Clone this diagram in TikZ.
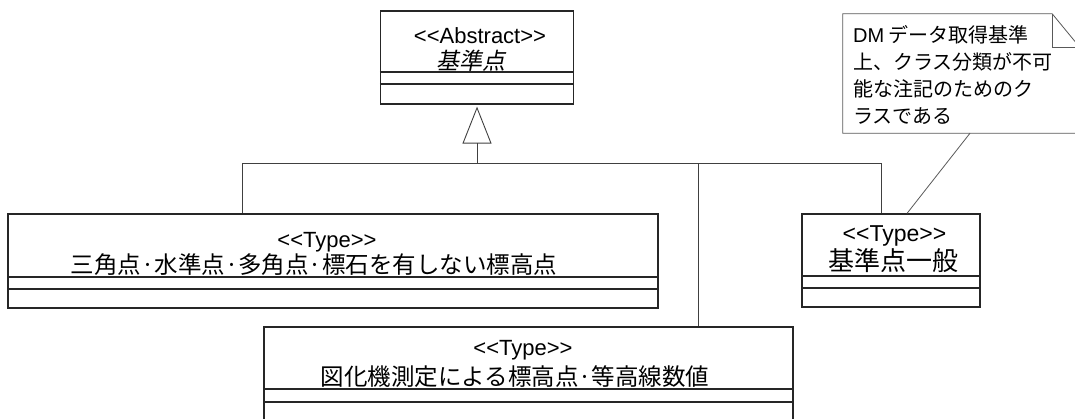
\documentclass[tikz,border=0pt]{standalone}
\usepackage{fontspec}
\setmainfont{Liberation Sans}[Ligatures=TeXOff]
\newfontfamily\jpfont{Noto Sans CJK JP}
\newfontfamily\jpslant{Noto Sans CJK JP}[FakeSlant=0.2]
\usetikzlibrary{arrows.meta}

\tikzset{
    classbox/.style={draw=black!85, line width=1.2pt, inner sep=0pt},
    compline/.style={draw=black!85, line width=1.1pt},
    stereo/.style={anchor=base, inner sep=0pt, font=\fontsize{22}{26}\selectfont},
    jpname/.style={anchor=base, inner sep=0pt, font=\jpfont\fontsize{23.5}{28}\selectfont},
    conn/.style={draw=black!75, line width=0.9pt},
    noteline/.style={draw=black!65, line width=0.8pt},
    notetext/.style={anchor=base west, inner sep=0pt, font=\jpfont\fontsize{20}{27}\selectfont}
}

\begin{document}
\begin{tikzpicture}[x=1pt, y=-1pt]
    \useasboundingbox (0,0) rectangle (1075,418);

    % Lớp trừu tượng
    \node[classbox, minimum width=193pt, minimum height=93pt] (kijun) at (477,57.5) {};
    \node[stereo] (kijunst) at (480,43) {<\kern0pt<Abstract>\kern0pt>};
    \node[jpname, font=\jpslant\fontsize{23}{28}\selectfont] (kijunname) at (471,69) {基準点};

    % Các lớp con
    \node[classbox, minimum width=650pt, minimum height=94pt] (hyoko) at (333,261) {};
    \node[stereo] (hyokost) at (327,247) {<\kern0pt<Type>\kern0pt>};
    \node[jpname] (hyokoname) at (314,273) {三角点·水準点·多角点·標石を有しない標高点};

    \node[classbox, minimum width=529pt, minimum height=94pt] (zuka) at (528.5,374) {};
    \node[stereo] (zukast) at (523,355) {<\kern0pt<Type>\kern0pt>};
    \node[jpname] (zukaname) at (515,385) {図化機測定による標高点·等高線数値};

    \node[classbox, minimum width=178pt, minimum height=93pt] (ippan) at (891,260.5) {};
    \node[stereo, font=\fontsize{23}{27}\selectfont] (ippanst) at (894.5,241) {<\kern0pt<Type>\kern0pt>};
    \node[jpname, font=\jpfont\fontsize{26}{30}\selectfont] (ippanname) at (893.5,270) {基準点一般};

    % Các ngăn thuộc tính / thao tác
    \foreach \n/\a/\b in {kijun/72/84, hyoko/277/289, zuka/389/402, ippan/276/288} {
        \draw[compline] (\n.west |- 0,\a) -- (\n.east |- 0,\a);
        \draw[compline] (\n.west |- 0,\b) -- (\n.east |- 0,\b);
    }

    % Quan hệ tổng quát hoá
    \coordinate (fork) at (477,163);
    \coordinate (forkl) at (242,163);
    \coordinate (forkm) at (698,163);
    \coordinate (forkr) at (881,163);
    \draw[conn, -{Triangle[open, length=37pt, width=29pt]}, shorten >=2pt] (fork) -- (kijun);
    \draw[conn] (forkl) -- (forkr);
    \draw[conn] (forkl) -- (forkl |- hyoko.north);
    \draw[conn] (forkm) -- (forkm |- zuka.north);
    \draw[conn] (forkr) -- (forkr |- ippan.north);

    % Ghi chú
    \node[minimum width=237pt, minimum height=119pt, inner sep=0pt] (chuki) at (961.5,73.5) {};
    \draw[noteline] (chuki.north west) -- ([xshift=-28pt]chuki.north east)
        -- ([yshift=-34pt]chuki.north east) -- (chuki.south east) -- (chuki.south west) -- cycle;
    \draw[noteline] ([xshift=-28pt]chuki.north east) |- ([yshift=-34pt]chuki.north east);
    \node[notetext] (chuki1) at (853,42.5) {{\rmfamily DM} データ取得基準};
    \node[notetext] (chuki2) at (853,69.5) {上、クラス分類が不可};
    \node[notetext] (chuki3) at (853,96.5) {能な注記のためのク};
    \node[notetext] (chuki4) at (853,123) {ラスである};
    \draw[noteline] ([xshift=8.5pt]chuki.south) -- ([xshift=16pt]ippan.north);
\end{tikzpicture}
\end{document}
